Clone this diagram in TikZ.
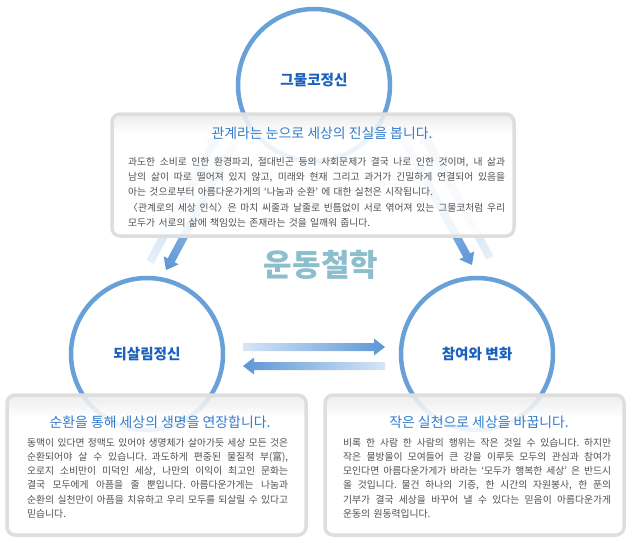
\documentclass[tikz,border=0pt]{standalone}
\usepackage{fontspec}
\setmainfont{Noto Sans CJK KR}
\usepackage{xcolor}
\usetikzlibrary{calc}

\definecolor{ringblue}{RGB}{104,160,216}
\definecolor{labelblue}{RGB}{28,96,190}
\definecolor{titleblue}{RGB}{52,124,204}
\definecolor{bodygray}{RGB}{80,80,80}
\definecolor{panelline}{RGB}{222,222,222}
\definecolor{panelhi}{RGB}{234,234,234}
\definecolor{arrowdark}{RGB}{92,150,214}
\definecolor{arrowpale}{RGB}{214,230,245}
\definecolor{mottocol}{RGB}{140,190,206}

\pgfdeclareverticalshading{panelfill}{100bp}{color(0bp)=(white); color(25bp)=(white); color(67bp)=(white); color(75bp)=(panelhi); color(100bp)=(panelhi)}

\tikzset{
  ring/.style={circle, draw=ringblue, line width=4.5pt, fill=white, minimum size=152pt, inner sep=0pt},
  ringtext/.style={font=\fontsize{14.6}{17}\selectfont\bfseries, text=labelblue},
  panel/.style={draw=panelline, line width=3.5pt, rounded corners=8pt, shade, shading=panelfill, fill opacity=.88, inner sep=0pt},
  paneltitle/.style={font=\fontsize{13.9}{16}\selectfont, text=titleblue},
  panelbody/.style={font=\fontsize{9.8}{14.2}\selectfont, text=bodygray, align=left, inner sep=0pt, anchor=north west},
}

% justified line of a panel text
\newcommand\jl[1]{\makebox[\hsize][s]{\spaceskip=.25em plus 1fil\relax #1}\\}

% shaded block arrow from #1 to #2, tail colour #3, head colour #4
\newcommand\flowarrow[4]{%
  \pgfpointdiff{\pgfpointanchor{#1}{center}}{\pgfpointanchor{#2}{center}}%
  \pgfgetlastxy{\fdx}{\fdy}%
  \pgfmathsetmacro\fang{atan2(\fdy,\fdx)}%
  \pgfmathsetmacro\flen{veclen(\fdx,\fdy)}%
  \begin{scope}[transform canvas={shift={(#1)},rotate=\fang}]
    \shade[left color=#3, right color=#4] (0,-4) -- (\flen-11,-4) -- (\flen-11,-8.5)
      -- (\flen,0) -- (\flen-11,8.5) -- (\flen-11,4) -- (0,4) -- cycle;
  \end{scope}}

\begin{document}
\begin{tikzpicture}[x=1pt, y=-1pt]
  \useasboundingbox (0,0) rectangle (636,542);

  % The three circles
  \node[ring, label={[ringtext, yshift=5pt]center:그물코정신}] (net) at (314,85) {};
  \node[ring, label={[ringtext]center:되살림정신}] (revive) at (147,354) {};
  \node[ring, label={[ringtext]center:참여와 변화}] (join) at (477,354) {};

  % Arrows between the circles
  \coordinate (h1) at (243,347);  \coordinate (h2) at (385,347);
  \coordinate (h3) at (385,366);  \coordinate (h4) at (243,366);
  \coordinate (l1) at (150,262);  \coordinate (l2) at (218,135);
  \coordinate (l3) at (234,143);  \coordinate (l4) at (166,270);
  \coordinate (r1) at (403,138);  \coordinate (r2) at (472,265);
  \coordinate (r3) at (490,258);  \coordinate (r4) at (422,131);
  \flowarrow{h1}{h2}{arrowpale}{arrowdark}
  \flowarrow{h3}{h4}{arrowpale}{arrowdark}
  \flowarrow{l1}{l2}{arrowpale!60!white}{ringblue!55}
  \flowarrow{l3}{l4}{arrowpale}{arrowdark}
  \flowarrow{r1}{r2}{arrowpale}{arrowdark}
  \flowarrow{r3}{r4}{arrowpale!60!white}{ringblue!55}

  \node[font=\fontsize{31}{33}\selectfont\bfseries, text=mottocol] (motto) at (321,265) {운동철학};

  % Panels
  \node[panel, minimum width=402pt, minimum height=122pt] (tpanel) at (313,175) {};
  \node[panel, minimum width=299pt, minimum height=140pt] (lpanel) at (156.5,465) {};
  \node[panel, minimum width=299pt, minimum height=140pt] (rpanel) at (474.5,465) {};

  \node[paneltitle] (ttitle) at (322,133) {관계라는 눈으로 세상의 진실을 봅니다.};
  \node[panelbody, text width=377pt, font=\fontsize{9.8}{15.3}\selectfont] (tbody) at (128,157) {%
    \jl{과도한 소비로 인한 환경파괴, 절대빈곤 등의 사회문제가 결국 나로 인한 것이며, 내 삶과}
    \jl{남의 삶이 따로 떨어져 있지 않고, 미래와 현재 그리고 과거가 긴밀하게 연결되어 있음을}
    아는 것으로부터 아름다운가게의 ‘나눔과 순환’ 에 대한 실천은 시작됩니다.\\
    \jl{〈관계로의 세상 인식〉은 마치 씨줄과 날줄로 빈틈없이 서로 엮어져 있는 그물코처럼 우리}
    모두가 서로의 삶에 책임있는 존재라는 것을 일깨워 줍니다.};

  \node[paneltitle] (ltitle) at (160,422) {순환을 통해 세상의 생명을 연장합니다.};
  \node[panelbody, text width=261pt] (lbody) at (27,438) {%
    \jl{동맥이 있다면 정맥도 있어야 생명체가 살아가듯 세상 모든 것은}
    \jl{순환되어야 살 수 있습니다. 과도하게 편중된 물질적 부(富),}
    \jl{오로지 소비만이 미덕인 세상, 나만의 이익이 최고인 문화는}
    \jl{결국 모두에게 아픔을 줄 뿐입니다. 아름다운가게는 나눔과}
    \jl{순환의 실천만이 아픔을 치유하고 우리 모두를 되살릴 수 있다고}
    믿습니다.};

  \node[paneltitle] (rtitle) at (479,422) {작은 실천으로 세상을 바꿉니다.};
  \node[panelbody, text width=268pt] (rbody) at (343,438) {%
    \jl{비록 한 사람 한 사람의 행위는 작은 것일 수 있습니다. 하지만}
    \jl{작은 물방울이 모여들어 큰 강을 이루듯 모두의 관심과 참여가}
    \jl{모인다면 아름다운가게가 바라는 ‘모두가 행복한 세상’ 은 반드시}
    \jl{올 것입니다. 물건 하나의 기증, 한 시간의 자원봉사, 한 푼의}
    \jl{기부가 결국 세상을 바꾸어 낼 수 있다는 믿음이 아름다운가게}
    운동의 원동력입니다.};
\end{tikzpicture}
\end{document}
